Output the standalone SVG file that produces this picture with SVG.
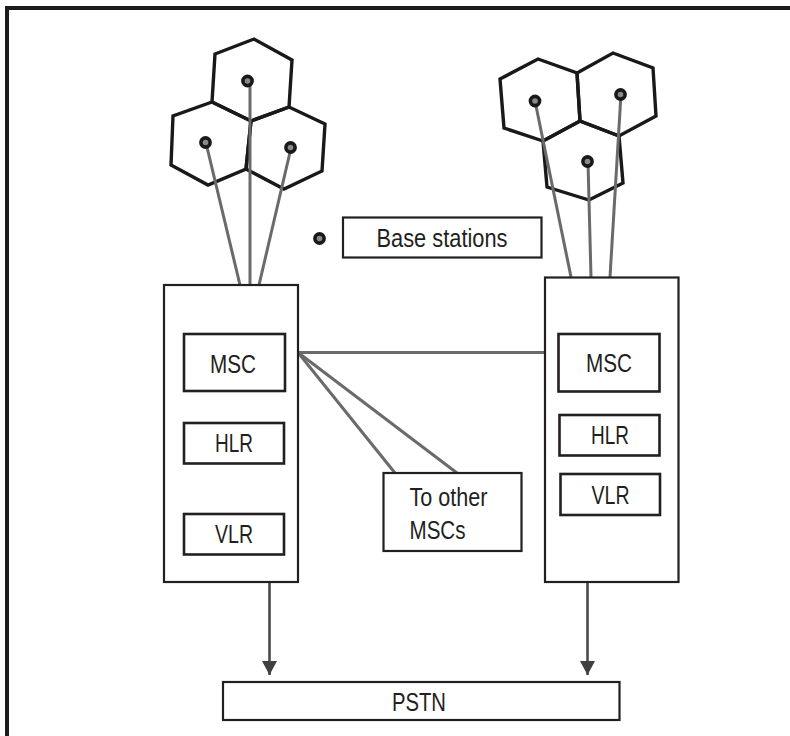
<svg xmlns="http://www.w3.org/2000/svg" width="790" height="736" viewBox="0 0 790 736">
  <style>
    .frame { fill: none; stroke: #1e1c1a; stroke-width: 4; }
    .cell { fill: none; stroke: #1a1818; stroke-width: 3.4; stroke-linejoin: miter; }
    .bts { fill: #8a8a8a; stroke: #1a1818; stroke-width: 3.6; }
    .box { fill: #ffffff; stroke: #231f20; stroke-width: 2.2; }
    .inner { fill: #ffffff; stroke: #231f20; stroke-width: 2.6; }
    .link { fill: none; stroke: #6a6a6a; stroke-width: 3; stroke-linecap: butt; }
    .feed { fill: none; stroke: #4a4a4a; stroke-width: 2.6; }
    .lbl { font-family: "Liberation Sans", Arial, sans-serif; font-size: 25.5px; fill: #231f20; }
    .mid { text-anchor: middle; }
  </style>
  <defs>
    <marker id="arrowHead" markerWidth="14" markerHeight="15" refX="14" refY="7.5" orient="auto" markerUnits="userSpaceOnUse" viewBox="0 0 14 15">
      <path d="M0,0 L14,7.5 L0,15 Z" fill="#404040"/>
    </marker>
  </defs>

  <rect width="790" height="736" fill="#ffffff"/>

  <!-- page frame: top and left rules only -->
  <path class="frame" d="M7,736 V8 H790"/>

  <!-- left cell cluster -->
  <g id="cellsLeft">
    <polygon class="cell" points="215,54 254,39 292,60 289,107 251,121 212,102"/>
    <polygon class="cell" points="212,102 251,121 246,169 208,185 171,165 173,116"/>
    <polygon class="cell" points="251,121 289,107 325,124 322,171 284,189 246,169"/>
  </g>

  <!-- right cell cluster -->
  <g id="cellsRight">
    <polygon class="cell" points="500,79 538,59 577,73 580,121 543,141 504,128"/>
    <polygon class="cell" points="577,73 613,53 653,68 656,116 619,136 580,121"/>
    <polygon class="cell" points="543,141 580,121 619,136 623,183 589,200 547,187"/>
  </g>

  <!-- connectors -->
  <g id="connectors">
    <!-- base stations to switching centres -->
    <line class="link" x1="206" y1="143" x2="240" y2="285"/>
    <line class="link" x1="250" y1="81" x2="250" y2="285"/>
    <line class="link" x1="291" y1="148" x2="259" y2="285"/>
    <line class="link" x1="535" y1="101" x2="571" y2="277"/>
    <line class="link" x1="588" y1="162" x2="591" y2="277"/>
    <line class="link" x1="621" y1="94" x2="610" y2="277"/>
    <!-- inter-MSC trunks -->
    <line class="link" x1="298" y1="352.5" x2="545" y2="352.5"/>
    <line class="link" x1="298" y1="352.5" x2="395" y2="473"/>
    <line class="link" x1="298" y1="352.5" x2="457" y2="473"/>
    <!-- feeds into the PSTN -->
    <line class="feed" x1="269.5" y1="582" x2="269.5" y2="675" marker-end="url(#arrowHead)"/>
    <line class="feed" x1="587.5" y1="582" x2="587.5" y2="675" marker-end="url(#arrowHead)"/>
  </g>

  <!-- base station markers -->
  <g id="stations">
    <circle class="bts" cx="247.5" cy="81" r="4.6"/>
    <circle class="bts" cx="205.5" cy="142.5" r="4.6"/>
    <circle class="bts" cx="290.5" cy="147.5" r="4.6"/>
    <circle class="bts" cx="535" cy="101" r="4.6"/>
    <circle class="bts" cx="620.5" cy="94.5" r="4.6"/>
    <circle class="bts" cx="587.5" cy="161.5" r="4.6"/>
  </g>

  <!-- legend -->
  <g id="legend">
    <circle class="bts" cx="319.5" cy="238.5" r="4.6"/>
    <rect class="box" x="343" y="217.5" width="198.5" height="40"/>
    <text class="lbl mid" x="442" y="246.5" textLength="131" lengthAdjust="spacingAndGlyphs">Base stations</text>
  </g>

  <!-- left switching centre -->
  <g id="switchLeft">
    <rect class="box" x="164" y="285" width="134" height="297"/>
    <rect class="inner" x="184" y="334" width="101" height="57"/>
    <text class="lbl mid" x="233" y="372.5" textLength="46" lengthAdjust="spacingAndGlyphs">MSC</text>
    <rect class="inner" x="184" y="423" width="100" height="40.5"/>
    <text class="lbl mid" x="234" y="451.5" textLength="38" lengthAdjust="spacingAndGlyphs">HLR</text>
    <rect class="inner" x="184" y="514" width="100" height="40.5"/>
    <text class="lbl mid" x="234" y="542.5" textLength="38" lengthAdjust="spacingAndGlyphs">VLR</text>
  </g>

  <!-- right switching centre -->
  <g id="switchRight">
    <rect class="box" x="545" y="277.5" width="133.5" height="304.5"/>
    <rect class="inner" x="558.5" y="334" width="101" height="57.5"/>
    <text class="lbl mid" x="609" y="371.5" textLength="46" lengthAdjust="spacingAndGlyphs">MSC</text>
    <rect class="inner" x="559.5" y="415" width="100" height="40.5"/>
    <text class="lbl mid" x="610" y="444" textLength="38" lengthAdjust="spacingAndGlyphs">HLR</text>
    <rect class="inner" x="560.5" y="474" width="99.5" height="41"/>
    <text class="lbl mid" x="610.5" y="503.5" textLength="38" lengthAdjust="spacingAndGlyphs">VLR</text>
  </g>

  <!-- other switching centres -->
  <g id="otherMscs">
    <rect class="box" x="383.5" y="473" width="138" height="78"/>
    <text class="lbl" x="409.5" y="505.5" textLength="78" lengthAdjust="spacingAndGlyphs">To other</text>
    <text class="lbl" x="409.5" y="538.5" textLength="56" lengthAdjust="spacingAndGlyphs">MSCs</text>
  </g>

  <!-- public switched telephone network -->
  <g id="pstn">
    <rect class="box" x="223" y="682" width="396.5" height="38"/>
    <text class="lbl mid" x="419" y="710.5" textLength="54" lengthAdjust="spacingAndGlyphs">PSTN</text>
  </g>
</svg>
